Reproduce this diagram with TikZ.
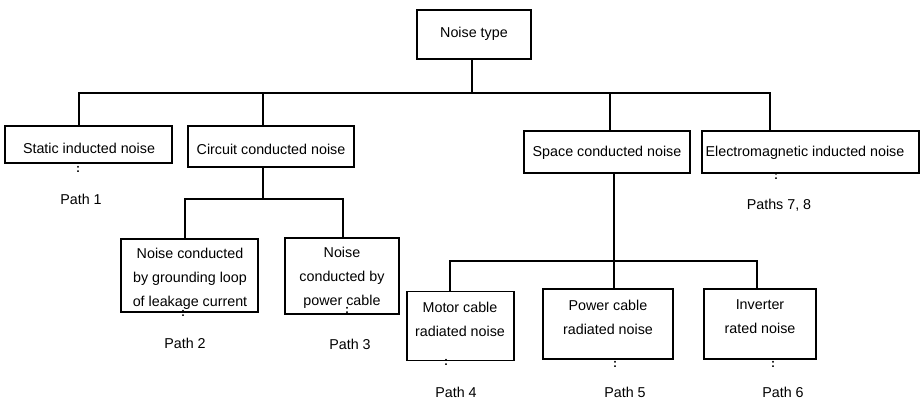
\documentclass[tikz,border=0pt]{standalone}
\usepackage{fontspec}
\setmainfont{Liberation Sans}
\begin{document}
\begin{tikzpicture}[x=1pt,y=-1pt,
  box/.style={draw,line width=1.2pt,inner sep=0pt},
  txt/.style={inner sep=0pt,align=center,font=\fontsize{14.3}{24}\selectfont},
  dots/.style={inner sep=0pt,font=\bfseries\fontsize{12}{12}\selectfont},
  conn/.style={line width=1.2pt}]
\useasboundingbox (0,0) rectangle (924,401);
% boxes: centre (x,y), width, height
\node[box,minimum width=114,minimum height=49] (root) at (474,34.5) {};
\node[box,minimum width=167,minimum height=37] (static) at (88.5,144.5) {};
\node[box,minimum width=166,minimum height=41] (circuit) at (271,146.5) {};
\node[box,minimum width=166,minimum height=42] (space) at (607,152) {};
\node[box,minimum width=217,minimum height=42] (em) at (810.5,152) {};
\node[box,minimum width=137,minimum height=73] (ground) at (189.5,275.5) {};
\node[box,minimum width=114,minimum height=76] (pcable) at (342,276) {};
\node[box,minimum width=107,minimum height=69] (motor) at (460.5,326) {};
\node[box,minimum width=130,minimum height=70] (pradiated) at (608,324) {};
\node[box,minimum width=112,minimum height=70] (inverter) at (760,324) {};
% texts
\node[txt] (troot) at (474,34) {Noise type};
\node[txt] (tstatic) at (89,148) {Static inducted noise};
\node[txt] (tcircuit) at (271,149) {Circuit conducted noise};
\node[txt] (tspace) at (607,153) {Space conducted noise};
\node[txt] (tem) at (805,153) {Electromagnetic inducted noise};
\node[txt] (tground) at (190,279) {Noise conducted\\by grounding loop\\of leakage current};
\node[txt] (tpcable) at (342,278) {Noise\\conducted by\\power cable};
\node[txt] (tmotor) at (460,319) {Motor cable\\radiated noise};
\node[txt] (tpradiated) at (608,317) {Power cable\\radiated noise};
\node[txt] (tinverter) at (760,317) {Inverter\\rated noise};
% dots
\node[dots] (d1) at (78,169) {:};
\node[dots] (d2) at (183,313) {:};
\node[dots] (d3) at (347,310) {:};
\node[dots] (d4) at (446,362) {:};
\node[dots] (d5) at (615,364) {:};
\node[dots] (d6) at (773,364) {:};
\node[dots] (d78) at (776,176) {:};
% path labels
\node[txt] (p1) at (81,199) {Path 1};
\node[txt] (p2) at (185,343) {Path 2};
\node[txt] (p3) at (350,344) {Path 3};
\node[txt] (p4) at (456,392) {Path 4};
\node[txt] (p5) at (625,392) {Path 5};
\node[txt] (p6) at (783,392) {Path 6};
\node[txt] (p78) at (779,205) {Paths 7, 8};
% connectors: top level
\coordinate (rj) at (472,93);
\coordinate (bL) at (79,93);
\coordinate (b2) at (263,93);
\coordinate (b3) at (610,93);
\coordinate (bR) at (770,93);
\draw[conn] (rj |- root.south) -- (rj);
\draw[conn] (bL |- static.north) -- (bL) -- (bR) -- (bR |- em.north);
\draw[conn] (b2) -- (b2 |- circuit.north);
\draw[conn] (b3) -- (b3 |- space.north);
% circuit conducted
\coordinate (cj) at (263,199);
\coordinate (cL) at (185,199);
\coordinate (cR) at (343,199);
\draw[conn] (cj |- circuit.south) -- (cj);
\draw[conn] (cL |- ground.north) -- (cL) -- (cR) -- (cR |- pcable.north);
% space conducted
\coordinate (sj) at (614,261);
\coordinate (sL) at (450,261);
\coordinate (sR) at (757,261);
\draw[conn] (sj |- space.south) -- (sj) -- (sj |- pradiated.north);
\draw[conn] (sL |- motor.north) -- (sL) -- (sR) -- (sR |- inverter.north);
\end{tikzpicture}
\end{document}
